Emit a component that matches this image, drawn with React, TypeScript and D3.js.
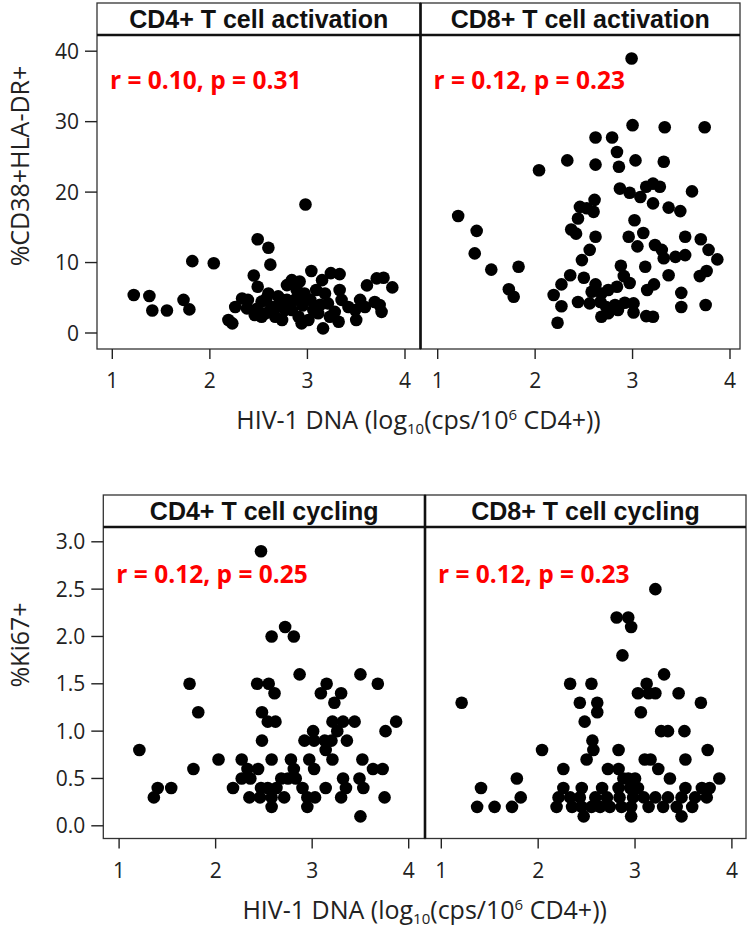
import * as d3 from "d3";

// [log10 HIV-1 DNA, %] pairs
const cd4Activation: [number, number][] = [
  [1.22, 5.4], [1.38, 5.25], [1.41, 3.2], [1.56, 3.2], [1.73, 4.7], [1.79, 3.35], [1.82, 10.2], [2.04, 9.9],
  [2.49, 13.3], [2.6, 12.1], [2.62, 9.7], [2.98, 18.25], [2.19, 1.84], [2.23, 1.37], [2.45, 8.17], [2.49, 6.57],
  [3.04, 8.8], [3.24, 8.5], [3.33, 8.36], [3.15, 7.5], [3.61, 6.76], [3.71, 7.75], [3.78, 7.85], [3.87, 6.47],
  [3.69, 4.4], [3.76, 3.0], [3.74, 3.97], [3.54, 4.7], [3.49, 3.26], [3.5, 1.84], [3.32, 1.6], [3.16, 0.66],
  [2.94, 1.37], [3.21, 4.2], [3.33, 6.1], [3.35, 4.7], [3.28, 3.0], [2.33, 4.9], [2.26, 3.7], [2.38, 3.5],
  [2.46, 2.55], [2.53, 4.45], [2.6, 5.6], [2.63, 3.7], [2.67, 2.3], [2.74, 1.84], [2.77, 3.26], [2.79, 6.8],
  [2.84, 7.5], [2.89, 6.1], [2.92, 7.3], [2.97, 5.6], [3.03, 4.7], [3.06, 3.26], [2.87, 4.7], [2.84, 3.26],
  [2.74, 4.7], [2.57, 2.8], [3.01, 1.84], [3.11, 2.8], [3.18, 5.6], [3.23, 2.3], [3.42, 3.7], [3.59, 3.7],
  [2.79, 4.7], [2.94, 4.7], [2.67, 3.7], [2.91, 2.3], [2.53, 2.3], [2.39, 4.7], [3.09, 6.1], [2.7, 5.2],
  [2.95, 3.9], [3.13, 4.0], [2.48, 3.4], [2.58, 4.9],
];

const cd8Activation: [number, number][] = [
  [2.99, 38.96], [3.0, 29.5], [3.33, 29.2], [3.74, 29.2], [2.62, 27.75], [2.79, 27.75], [2.84, 25.7], [2.33, 24.5],
  [2.62, 23.9], [2.86, 23.6], [3.03, 24.5], [3.32, 24.3], [2.04, 23.1], [2.87, 20.5], [2.97, 19.9], [3.08, 19.3],
  [3.14, 20.75], [3.21, 21.2], [3.28, 20.75], [3.61, 20.1], [2.61, 18.9], [2.46, 17.9], [2.53, 17.7], [2.6, 17.2],
  [2.44, 16.25], [3.21, 18.4], [3.37, 17.8], [3.49, 17.3], [1.21, 16.6], [3.02, 16.0], [2.37, 14.7], [2.42, 14.1],
  [2.62, 13.66], [2.96, 13.66], [3.11, 14.2], [3.05, 12.3], [1.4, 14.5], [3.54, 13.66], [3.7, 13.3], [3.23, 12.5],
  [3.3, 11.8], [3.32, 10.6], [3.44, 10.8], [3.54, 11.06], [3.78, 11.8], [3.87, 10.45], [1.38, 11.3], [2.56, 11.8],
  [2.48, 10.35], [1.55, 9.0], [1.83, 9.4], [2.88, 9.55], [3.13, 9.4], [3.37, 8.2], [3.69, 8.08], [3.76, 8.8],
  [2.36, 8.2], [2.5, 7.84], [2.27, 6.9], [2.62, 6.9], [2.91, 8.08], [2.97, 7.1], [1.73, 6.2], [1.78, 5.15],
  [2.19, 5.4], [2.27, 3.8], [2.23, 1.46], [2.44, 4.4], [2.56, 4.2], [2.58, 5.86], [2.68, 5.6], [2.75, 6.1],
  [2.84, 6.57], [2.67, 4.4], [2.73, 3.7], [2.82, 3.97], [2.92, 4.3], [3.01, 4.2], [2.68, 2.3], [2.75, 2.8],
  [2.85, 3.26], [3.01, 2.9], [3.14, 2.4], [3.21, 2.3], [3.15, 6.1], [3.22, 6.9], [3.5, 5.7], [3.5, 3.7],
  [3.75, 3.97],
];

const cd4Cycling: [number, number][] = [
  [2.47, 2.9], [2.58, 2.0], [2.72, 2.1], [2.81, 2.0], [2.87, 1.6], [1.73, 1.5], [2.43, 1.5], [2.55, 1.5],
  [2.61, 1.4], [3.15, 1.5], [3.09, 1.4], [3.3, 1.4], [3.23, 1.3], [3.5, 1.6], [3.68, 1.5], [1.82, 1.2],
  [2.48, 1.2], [2.54, 1.1], [2.62, 1.1], [3.21, 1.1], [3.32, 1.1], [3.44, 1.1], [3.26, 1.0], [3.87, 1.1],
  [3.76, 1.0], [3.01, 1.0], [2.92, 0.9], [3.02, 0.9], [3.13, 0.9], [3.2, 0.9], [3.14, 0.8], [3.36, 0.9],
  [2.48, 0.9], [1.21, 0.8], [3.21, 0.7], [2.03, 0.7], [2.27, 0.7], [2.58, 0.7], [2.78, 0.7], [2.97, 0.7],
  [3.52, 0.7], [1.77, 0.6], [2.33, 0.6], [2.44, 0.6], [2.81, 0.6], [3.02, 0.6], [3.63, 0.6], [3.73, 0.6],
  [1.4, 0.4], [1.54, 0.4], [1.36, 0.3], [2.18, 0.4], [2.27, 0.5], [2.36, 0.5], [2.47, 0.4], [2.54, 0.4],
  [2.68, 0.5], [2.75, 0.5], [2.83, 0.5], [2.9, 0.4], [2.35, 0.3], [2.46, 0.3], [2.58, 0.3], [2.63, 0.4],
  [2.71, 0.3], [2.58, 0.2], [2.95, 0.3], [3.03, 0.3], [2.95, 0.2], [3.14, 0.4], [3.32, 0.5], [3.35, 0.4],
  [3.3, 0.3], [3.49, 0.5], [3.53, 0.4], [3.75, 0.3], [3.5, 0.1],
];

const cd8Cycling: [number, number][] = [
  [3.21, 2.5], [2.81, 2.2], [2.93, 2.2], [2.96, 2.1], [2.87, 1.8], [1.21, 1.3], [3.3, 1.6], [2.33, 1.5],
  [2.55, 1.5], [3.12, 1.5], [3.03, 1.4], [3.14, 1.4], [3.21, 1.4], [3.45, 1.4], [3.68, 1.3], [2.43, 1.3],
  [2.61, 1.3], [2.61, 1.2], [3.06, 1.2], [2.48, 1.1], [3.27, 1.0], [3.34, 1.0], [3.51, 1.0], [2.56, 0.9],
  [2.57, 0.8], [2.04, 0.8], [2.83, 0.8], [3.75, 0.8], [2.5, 0.7], [3.1, 0.7], [3.16, 0.7], [3.52, 0.7],
  [2.26, 0.6], [2.72, 0.6], [2.83, 0.6], [3.24, 0.6], [1.78, 0.5], [3.36, 0.5], [3.87, 0.5], [2.93, 0.5],
  [3.0, 0.5], [2.88, 0.5], [1.41, 0.4], [2.26, 0.4], [2.45, 0.4], [2.66, 0.4], [2.83, 0.4], [2.95, 0.4],
  [3.03, 0.4], [3.52, 0.4], [3.69, 0.4], [3.77, 0.4], [1.82, 0.3], [2.21, 0.3], [2.33, 0.3], [2.43, 0.3],
  [2.59, 0.3], [2.71, 0.3], [2.84, 0.3], [2.98, 0.3], [3.09, 0.3], [3.21, 0.3], [3.34, 0.3], [3.48, 0.3],
  [3.62, 0.3], [3.74, 0.3], [1.37, 0.2], [1.55, 0.2], [1.73, 0.2], [2.19, 0.2], [2.35, 0.2], [2.45, 0.2],
  [2.55, 0.2], [2.64, 0.2], [2.74, 0.2], [2.86, 0.2], [2.96, 0.2], [3.14, 0.2], [3.29, 0.2], [3.43, 0.2],
  [3.59, 0.2], [2.47, 0.1], [2.96, 0.1], [3.48, 0.1],
];

const xTicks = [1, 2, 3, 4];
const activationTicks = [0, 10, 20, 30, 40];
const cyclingTicks = [0, 0.5, 1, 1.5, 2, 2.5, 3];

const stats = ["r = 0.10, p = 0.31", "r = 0.12, p = 0.23", "r = 0.12, p = 0.25", "r = 0.12, p = 0.23"];
const titles = ["CD4+ T cell activation", "CD8+ T cell activation", "CD4+ T cell cycling", "CD8+ T cell cycling"];

const AXIS_FONT = "'Open Sans', 'DejaVu Sans', sans-serif";
const STRIP_FONT = "'Liberation Sans', Arial, sans-serif";
const R = 6.3;

interface RowProps {
  left: number;
  mid: number;
  right: number;
  stripTop: number;
  stripBot: number;
  plotBot: number;
  xRanges: [number, number][];
  y: d3.ScaleLinear<number, number>;
  yTicks: number[];
  yFmt: (v: number) => string;
  yTitle: string;
  yTitleY: number;
  data: [number, number][][];
  labels: string[];
  stat: string[];
  statBaseline: number;
}

function Row(p: RowProps) {
  const panels = [
    [p.left, p.mid],
    [p.mid, p.right],
  ];
  return (
    <g>
      {/* strips + boxes */}
      {panels.map(([a, b], i) => (
        <g key={i}>
          <rect x={a} y={p.stripTop} width={b - a} height={p.plotBot - p.stripTop} fill="none" stroke="#333" strokeWidth={1.3} />
          <text
            x={(a + b) / 2}
            y={p.stripBot - 7}
            textAnchor="middle"
            fontFamily={STRIP_FONT}
            fontWeight="bold"
            fontSize={25}
            fill="#111"
          >
            {p.labels[i]}
          </text>
        </g>
      ))}
      <line x1={p.left} x2={p.right} y1={p.stripBot} y2={p.stripBot} stroke="#111" strokeWidth={2.5} />
      <line x1={p.mid} x2={p.mid} y1={p.stripTop} y2={p.plotBot} stroke="#111" strokeWidth={2.6} />

      {/* points */}
      {p.data.map((pts, i) => {
        const x = d3.scaleLinear().domain([1, 4]).range(p.xRanges[i]);
        return (
          <g key={i}>
            {pts.map(([dx, dy], j) => (
              <circle key={j} cx={x(dx)} cy={p.y(dy)} r={R} fill="#000" />
            ))}
            <text
              x={panels[i][0] + 13}
              y={p.statBaseline}
              fontFamily={AXIS_FONT}
              fontWeight="bold"
              fontSize={24.5}
              fill="#ff0000"
            >
              {p.stat[i]}
            </text>
            {xTicks.map((t) => (
              <g key={t}>
                <line x1={x(t)} x2={x(t)} y1={p.plotBot} y2={p.plotBot + 10} stroke="#222" strokeWidth={1.4} />
                <text
                  x={x(t)}
                  y={p.plotBot + 39}
                  textAnchor="middle"
                  fontFamily={AXIS_FONT}
                  fontSize={21}
                  fill="#222"
                >
                  {t}
                </text>
              </g>
            ))}
          </g>
        );
      })}

      {/* y axis */}
      {p.yTicks.map((t) => (
        <g key={t}>
          <line x1={p.left - 12} x2={p.left} y1={p.y(t)} y2={p.y(t)} stroke="#222" strokeWidth={1.4} />
          <text
            x={p.left - 18}
            y={p.y(t)}
            dy="0.36em"
            textAnchor="end"
            fontFamily={AXIS_FONT}
            fontSize={21}
            fill="#222"
          >
            {p.yFmt(t)}
          </text>
        </g>
      ))}
      <text
        transform={`translate(29,${p.yTitleY}) rotate(-90)`}
        textAnchor="middle"
        fontFamily={AXIS_FONT}
        fontSize={25}
        fill="#222"
      >
        {p.yTitle}
      </text>

      {/* x title */}
      <text
        x={(p.left + p.right) / 2}
        y={p.plotBot + 80}
        textAnchor="middle"
        fontFamily={AXIS_FONT}
        fontSize={25}
        fill="#222"
      >
        HIV-1 DNA (log
        <tspan fontSize={15} dy={5}>10</tspan>
        <tspan dy={-5}>(cps/10</tspan>
        <tspan fontSize={15} dy={-9}>6</tspan>
        <tspan dy={9}> CD4+))</tspan>
      </text>
    </g>
  );
}

export default function App() {
  const yTop = d3.scaleLinear().domain([0, 40]).range([333, 51.2]);
  const yBot = d3.scaleLinear().domain([0, 3]).range([825.8, 541.8]);

  return (
    <svg
      width={750}
      height={927}
      viewBox="0 0 750 927"
      style={{ position: "absolute", left: 0, top: 0, background: "#fff" }}
    >
      <rect width={750} height={927} fill="#fff" />
      <Row
        left={97}
        mid={420.5}
        right={740}
        stripTop={3}
        stripBot={35}
        plotBot={349}
        xRanges={[
          [112.3, 405],
          [437.7, 730],
        ]}
        y={yTop}
        yTicks={activationTicks}
        yFmt={(v) => String(v)}
        yTitle="%CD38+HLA-DR+"
        yTitleY={166}
        data={[cd4Activation, cd8Activation]}
        labels={titles.slice(0, 2)}
        stat={stats.slice(0, 2)}
        statBaseline={89}
      />
      <Row
        left={103.3}
        mid={425}
        right={746}
        stripTop={495}
        stripBot={527}
        plotBot={838.5}
        xRanges={[
          [119.1, 408.7],
          [441.3, 731.9],
        ]}
        y={yBot}
        yTicks={cyclingTicks}
        yFmt={(v) => v.toFixed(1)}
        yTitle="%Ki67+"
        yTitleY={645}
        data={[cd4Cycling, cd8Cycling]}
        labels={titles.slice(2)}
        stat={stats.slice(2)}
        statBaseline={583}
      />
    </svg>
  );
}
